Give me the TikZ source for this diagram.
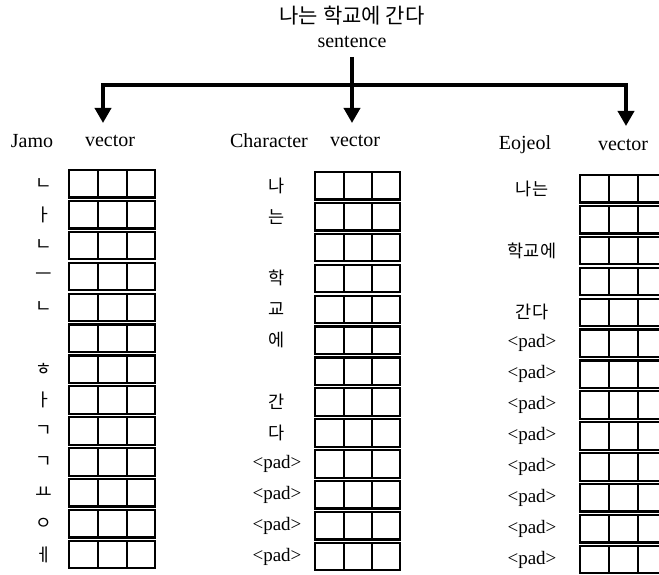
\documentclass[tikz,border=0pt]{standalone}
\usepackage{fontspec}
\setmainfont{Liberation Serif}
\newfontfamily\kor{Noto Sans CJK KR}
\usetikzlibrary{arrows.meta,calc}
\newcommand{\padtok}{{\rmfamily\fontsize{19}{21}\selectfont <pad>}}
\tikzset{
    rowbox/.style={draw, line width=2.2pt},
    rowdiv/.style={line width=1.3pt},
    feed/.style={line width=3.6pt, line join=miter, -{Triangle[length=15pt,width=16pt]}},
    head/.style={font=\fontsize{20}{22}\selectfont, inner sep=0pt},
    tok/.style={font=\kor\fontsize{17.5}{20}\selectfont, inner sep=0pt}}

\begin{document}
\begin{tikzpicture}[x=1pt,y=-1pt]
\useasboundingbox (0,0) rectangle (659,575);
% input sentence
\node[font=\kor\fontsize{21}{24}\selectfont, inner sep=0pt] (title) at (352,16) {나는 학교에 간다};
\node[head] (sent) at (352,42) {sentence};
\coordinate (hub) at (352,85);
\coordinate (tipJ) at (103,123);
\coordinate (tipC) at (352,123);
\coordinate (tipE) at (626,126);
\draw[feed] (hub) -| (tipJ);
\draw[feed] (hub) -| (tipE);
\draw[feed] (sent.south |- 0,57) -- (tipC);

% column headers
\node[head] (jamo) at (32,141) {Jamo};
\node[head] (jvec) at (110,141) {vector};
\node[head] (char) at (269,141) {Character};
\node[head] (cvec) at (355,141) {vector};
\node[head] (eoj) at (525,145) {Eojeol};
\node[head] (evec) at (623,145) {vector};

% Jamo
\foreach \t [count=\i from 0] in {ㄴ,ㅏ,ㄴ,ㅡ,ㄴ,{},ㅎ,ㅏ,ㄱ,ㄱ,ㅛ,ㅇ,ㅔ}{
  \coordinate (J\i) at (69,170+30.9*\i);
  \draw[rowbox] (J\i) rectangle ++(86,27.5);
  \draw[rowdiv] ($(J\i)+(29,0)$) -- ++(0,27.5) ($(J\i)+(58,0)$) -- ++(0,27.5);
  \node[tok, font=\kor\fontsize{18}{20}\selectfont] (jt\i) at (44,183.7+30.9*\i) {\t};
}
% Character
\foreach \t [count=\i from 0] in {나,는,{},학,교,에,{},간,다,\padtok,\padtok,\padtok,\padtok}{
  \coordinate (C\i) at (315,172+30.9*\i);
  \draw[rowbox] (C\i) rectangle ++(85,27.5);
  \draw[rowdiv] ($(C\i)+(29,0)$) -- ++(0,27.5) ($(C\i)+(57,0)$) -- ++(0,27.5);
  \node[tok] (ct\i) at (277,185.7+30.9*\i) {\t};
}
% Eojeol
\foreach \t [count=\i from 0] in {나는,{},학교에,{},간다,\padtok,\padtok,\padtok,\padtok,\padtok,\padtok,\padtok,\padtok}{
  \coordinate (E\i) at (580,175+30.9*\i);
  \draw[rowbox] (E\i) rectangle ++(87,27.5);
  \draw[rowdiv] ($(E\i)+(29,0)$) -- ++(0,27.5) ($(E\i)+(58,0)$) -- ++(0,27.5);
  \node[tok] (et\i) at (532,188.7+30.9*\i) {\t};
}
\end{tikzpicture}
\end{document}
